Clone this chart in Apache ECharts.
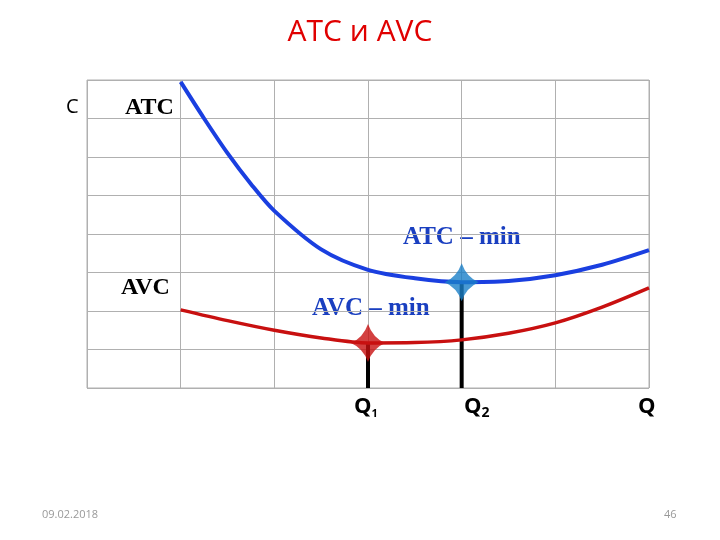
<!DOCTYPE html>
<html>
<head>
<meta charset="utf-8">
<script src="https://cdn.jsdelivr.net/npm/echarts@6/dist/echarts.min.js"></script>
<style>html,body{margin:0;padding:0;background:#fff}</style>
</head>
<body>
<div id="main" style="width:720px;height:540px"></div>
<script>
var atcData = [[1, 7.95], [1.25, 7.0], [1.5, 6.1], [1.75, 5.3], [2, 4.6], [2.5, 3.6], [3, 3.07], [3.5, 2.85], [4, 2.75], [4.5, 2.78], [5, 2.93], [5.5, 3.2], [6, 3.58]];
var avcData = [[1, 2.03], [1.5, 1.75], [2, 1.5], [2.5, 1.3], [3, 1.17], [3.5, 1.18], [4, 1.25], [4.5, 1.42], [5, 1.69], [5.5, 2.1], [6, 2.6]];
var atcMin = [4, 2.75];
var avcMin = [3, 1.17];

var starPath = 'path://M0,-10 Q2.8,-2.8 10,0 Q2.8,2.8 0,10 Q-2.8,2.8 -10,0 Q-2.8,-2.8 0,-10Z';
var serif = '"Liberation Serif", "DejaVu Serif", serif';

var myChart = echarts.init(document.getElementById('main'));
var option = {
    animation: false,
    title: {
        text: 'ATC и AVC', left: 'center', top: 12,
        textStyle: { color: '#e00000', fontSize: 30, fontWeight: 'normal', fontFamily: 'Open Sans' }
    },
    grid: { left: 87, right: 71, top: 80, bottom: 152 },
    xAxis: {
        type: 'value', min: 0, max: 6, interval: 1,
        axisLine: { show: false }, axisTick: { show: false }, axisLabel: { show: false },
        splitLine: { lineStyle: { color: '#b0b0b0', width: 1 } }
    },
    yAxis: {
        type: 'value', min: 0, max: 8, interval: 1,
        axisLine: { show: false }, axisTick: { show: false }, axisLabel: { show: false },
        splitLine: { lineStyle: { color: '#b0b0b0', width: 1 } }
    },
    graphic: [
        { type: 'rect', shape: { x: 87, y: 80, width: 562, height: 308 }, style: { fill: 'none', stroke: '#b0b0b0' } },
        { type: 'text', left: 66, top: 97, style: { text: 'C', font: '20px "Open Sans"', fill: '#000' } },
        { type: 'text', left: 125, top: 96, style: { text: 'ATC', font: 'bold 24px ' + serif, fill: '#000' } },
        { type: 'text', left: 121, top: 276, style: { text: 'AVC', font: 'bold 24px ' + serif, fill: '#000' } },
        { type: 'text', left: 403, top: 225, style: { text: 'ATC – min', font: 'bold 25px ' + serif, fill: '#1a3fc0' } },
        { type: 'text', left: 312, top: 296, style: { text: 'AVC – min', font: 'bold 25px ' + serif, fill: '#1a3fc0' } },
        { type: 'text', left: 354, top: 396, style: { rich: { a: { font: 'bold 22px "Open Sans"', fill: '#000' }, b: { font: 'bold 11px "Open Sans"', fill: '#000', padding: [14, 0, 0, 0] } }, text: '{a|Q}{b|1}' } },
        { type: 'text', left: 464, top: 396, style: { rich: { a: { font: 'bold 22px "Open Sans"', fill: '#000' }, b: { font: 'bold 14px "Open Sans"', fill: '#000', padding: [12, 0, 0, 0] } }, text: '{a|Q}{b|2}' } },
        { type: 'text', left: 638, top: 396, style: { text: 'Q', font: 'bold 22px "Open Sans"', fill: '#000' } },
        { type: 'text', left: 42, top: 509, style: { text: '09.02.2018', font: '11px "Open Sans"', fill: '#999' } },
        { type: 'text', left: 664, top: 509, style: { text: '46', font: '11px "Open Sans"', fill: '#999' } }
    ],
    series: [
        { type: 'line', data: [[avcMin[0], 0], avcMin], symbol: 'none', lineStyle: { color: '#000', width: 4 }, z: 1 },
        { type: 'line', data: [[atcMin[0], 0], atcMin], symbol: 'none', lineStyle: { color: '#000', width: 4 }, z: 1 },
        { type: 'line', data: atcData, smooth: 0.3, symbol: 'none', lineStyle: { color: '#1a3fe0', width: 4 }, z: 2 },
        { type: 'line', data: avcData, smooth: 0.3, symbol: 'none', lineStyle: { color: '#c81010', width: 3.5 }, z: 2 },
        { type: 'scatter', data: [atcMin], symbol: starPath, symbolSize: [34, 38], itemStyle: { color: '#1a7fc8' }, z: 3 },
        { type: 'scatter', data: [avcMin], symbol: starPath, symbolSize: [34, 38], itemStyle: { color: '#c81010' }, z: 3 }
    ]
};
myChart.setOption(option, true);
</script>
</body>
</html>
